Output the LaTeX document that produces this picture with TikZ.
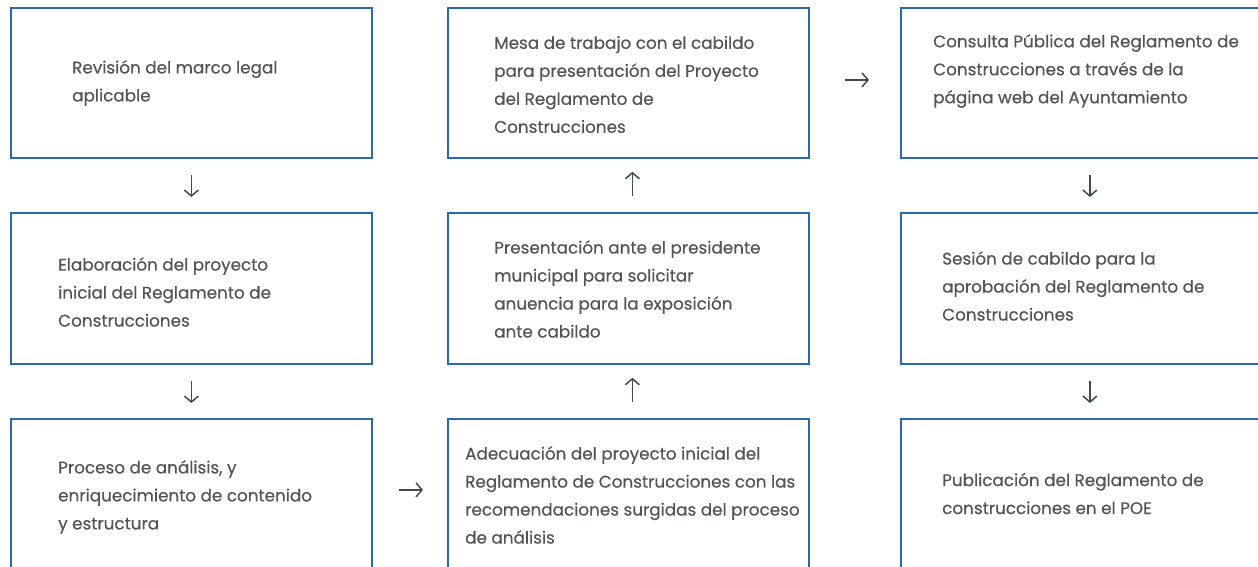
\documentclass[tikz,border=0pt]{standalone}
\usepackage{fontspec}
\setmainfont{Poppins}[FakeBold=0.5]
\usetikzlibrary{arrows.meta}
\definecolor{boxblue}{HTML}{2B6AAA}
\definecolor{txt}{HTML}{50555A}
\definecolor{arr}{HTML}{3E4A54}
\begin{document}
\begin{tikzpicture}[x=1pt,y=-1pt,
  box/.style={draw=boxblue, line width=1.8pt, rectangle, minimum width=361pt, minimum height=150pt, inner sep=0pt, anchor=north west},
  lbl/.style={anchor=west, align=left, inner sep=0pt, text=txt, font=\fontsize{16.8}{28}\selectfont},
  conn/.style={draw=arr, line width=1.5pt, -{Straight Barb[length=6pt,width=14pt,line width=1.5pt]}}]
\useasboundingbox (0,0) rectangle (1258,567);
\clip (0,0) rectangle (1258,567);
% boxes
\node[box] (a1) at (10,7) {};
\node[box, minimum height=151pt] (a2) at (10,212) {};
\node[box] (a3) at (10,418) {};
\node[box] (b1) at (447,7) {};
\node[box, minimum height=151pt] (b2) at (447,212) {};
\node[box] (b3) at (447,418) {};
\node[box, minimum width=378pt] (c1) at (900,7) {};
\node[box, minimum width=378pt, minimum height=151pt] (c2) at (900,212) {};
\node[box, minimum width=378pt] (c3) at (900,418) {};
% texts
\node[lbl] (ta1) at (72,83) {Revisión del marco legal\\aplicable};
\node[lbl] (ta2) at (58,292) {Elaboración del proyecto\\inicial del Reglamento de\\Construcciones};
\node[lbl] (ta3) at (58,497) {Proceso de análisis, y\\enriquecimiento de contenido\\y estructura};
\node[lbl] (tb1) at (494,84.5) {Mesa de trabajo con el cabildo\\para presentación del Proyecto\\del Reglamento de\\Construcciones};
\node[lbl] (tb2) at (494,289) {Presentación ante el presidente\\municipal para solicitar\\anuencia para la exposición\\ante cabildo};
\node[lbl] (tb3) at (465,495) {Adecuación del proyecto inicial del\\Reglamento de Construcciones con las\\recomendaciones surgidas del proceso\\de análisis};
\node[lbl] (tc1) at (933,71) {Consulta Pública del Reglamento de\\Construcciones a través de la\\página web del Ayuntamiento};
\node[lbl] (tc2) at (942,286) {Sesión de cabildo para la\\aprobación del Reglamento de\\Construcciones};
\node[lbl] (tc3) at (942,493.5) {Publicación del Reglamento de\\construcciones en el POE};
% connectors
\draw[conn, shorten <=16pt, shorten >=15pt] (a1) -- (a2);
\draw[conn, shorten <=16pt, shorten >=15pt] (a2) -- (a3);
\draw[conn, shorten <=26pt, shorten >=24pt] ([yshift=4pt]a3.east) -- ([yshift=4pt]b3.west);
\draw[conn, shorten <=16pt, shorten >=13pt] ([xshift=4pt]b3.north) -- ([xshift=4pt]b2.south);
\draw[conn, shorten <=16pt, shorten >=13pt] ([xshift=4pt]b2.north) -- ([xshift=4pt]b1.south);
\draw[conn, shorten <=35pt, shorten >=31pt] ([yshift=3pt]b1.east) -- ([yshift=3pt]c1.west);
\draw[conn, shorten <=16pt, shorten >=15pt] (c1) -- (c2);
\draw[conn, shorten <=16pt, shorten >=15pt] (c2) -- (c3);
\end{tikzpicture}
\end{document}
